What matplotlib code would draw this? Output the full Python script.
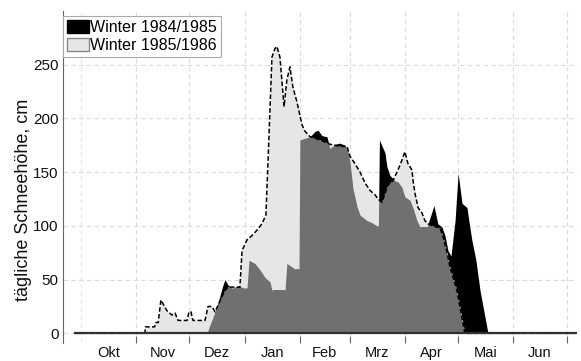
import numpy as np
import matplotlib.pyplot as plt
from matplotlib.patches import Patch

plt.rcParams['font.family'] = ['Liberation Sans', 'DejaVu Sans']

# days counted from 1 Oct
days_8586 = [-3, 36, 36.3, 41.5, 42, 43.5, 45, 48.4, 51.2, 52.9, 54.7, 59.7, 60.8, 61.9,
             63, 69.8, 71.5, 73.7, 75.4, 78.2, 81, 82.7, 89.4, 90.6, 93.4, 96.2, 99,
             101.8, 104, 105.2, 107.4, 109.1, 110.2, 111.9, 114.2, 115.8, 117.5, 119.2,
             121.5, 124.3, 126, 128.8, 134.4, 140, 145.6, 149.6, 151.2, 154, 156.9,
             159.7, 162.5, 165.3, 167, 169.2, 172.6, 175.4, 178.2, 180.4, 182.1, 183.8,
             186.1, 186.6, 187.8, 189.5, 191.7, 193.3, 195, 197.8, 201.8, 203.5, 205.7,
             207.4, 211.3, 215.8, 278]
snow_8586 = [0, 0, 6, 6, 10, 10, 31, 21, 17, 19, 12, 12, 20, 20,
             12, 12, 25, 25, 20, 30, 40, 43, 43, 77, 87, 91, 96,
             102, 110, 160, 257, 265, 267, 257, 211, 236, 248, 229,
             215, 194, 188, 183, 180, 176, 174, 174, 165, 158, 150,
             140, 133, 129, 125, 122, 138, 142, 152, 161, 169, 158,
             152, 143, 130, 117, 112, 105, 102, 100, 98, 90, 76,
             62, 40, 0, 0]

days_8485 = [-3, 70.9, 72.6, 74.3, 76.5, 78.2, 79.9, 81, 82.7, 85, 88.3, 92.2, 93.4,
             94.5, 97.9, 100.7, 103.5, 106.3, 107.4, 114.7, 115.8, 120.3, 122.6, 123.1,
             128.8, 131.6, 133.3, 135.5, 138.3, 140, 142.8, 145.6, 148.4, 150.1, 151.2,
             152.9, 155.2, 156.9, 160.8, 163.6, 166.4, 167.2, 167.8, 170.9, 172, 173.7,
             176.5, 178.2, 180.4, 182.1, 184.9, 186.6, 188.9, 190.6, 194.5, 196.7,
             198.4, 200.6, 202.9, 204.6, 206.3, 208, 210.3, 212, 214.2, 217, 218,
             219.7, 222, 224.3, 228.8, 278]
snow_8485 = [0, 0, 8, 15, 25, 35, 45, 50, 45, 42, 44, 42, 42,
             68, 65, 59, 52, 48, 40, 40, 65, 60, 60, 180,
             183, 188, 189, 184, 183, 172, 176, 177, 175, 170, 160,
             135, 118, 110, 105, 103, 100, 100, 180, 168, 155, 147,
             142, 141, 136, 127, 124, 117, 105, 99, 99, 110,
             119, 102, 99, 91, 77, 72, 105, 149, 121, 117, 105,
             87, 68, 40, 0, 0]

month_starts = [31, 61, 92, 123, 151, 182, 212, 243, 273]
month_mids = [15.5, 46, 76.5, 107.5, 137, 166.5, 197, 227.5, 258]
month_names = ['Okt', 'Nov', 'Dez', 'Jan', 'Feb', 'Mrz', 'Apr', 'Mai', 'Jun']

light = '#e6e6e6'
dark = '#707070'

fig = plt.figure(figsize=(5.81, 3.61), dpi=100)
ax = fig.add_axes([63 / 581, 18 / 361, 514 / 581, 332 / 361])

ax.fill_between(days_8485, snow_8485, color='black', lw=0, zorder=2)
p86 = ax.fill_between(days_8586, snow_8586, color=light, lw=0, zorder=2)
both = ax.fill_between(days_8485, snow_8485, color=dark, lw=0, zorder=3)
both.set_clip_path(p86.get_paths()[0], ax.transData)

ax.plot(days_8586, snow_8586, color='black', lw=1.1, ls=(0, (3, 1.5)), zorder=4)
ax.plot([days_8586[0], days_8586[-1]], [0, 0], color='#303030', lw=1.6, zorder=5)

ax.set_xlim(-10, 278.8)
ax.set_ylim(-9, 300)

ax.set_yticks([0, 50, 100, 150, 200, 250])
ax.set_xticks(month_starts)
ax.set_xticklabels([])
ax.set_xticks(month_mids, minor=True)
ax.set_xticklabels(month_names, minor=True)
ax.tick_params(axis='x', which='major', direction='in', length=5, color='#666666')
ax.tick_params(axis='x', which='minor', length=0, pad=2, labelsize=10.5, colors='#111111')
ax.tick_params(axis='y', length=0, pad=3, labelsize=11, colors='#111111')

ax.grid(True, which='major', color='#dadada', ls=(0, (4, 3)), lw=0.8, zorder=1)
ax.axvline(0, color='#e6e6e6', ls=(0, (4, 3)), lw=0.8, zorder=1)
ax.set_axisbelow(True)

for s in ['top', 'right', 'bottom']:
    ax.spines[s].set_visible(False)
ax.spines['left'].set_color('#666666')

ax.set_ylabel('tägliche Schneehöhe, cm', fontsize=13, color='#111111')
ax.yaxis.set_label_coords(-0.06, 0.43)

handles = [Patch(facecolor='black', edgecolor='black'),
           Patch(facecolor=light, edgecolor='#888888')]
leg = ax.legend(handles, ['Winter 1984/1985', 'Winter 1985/1986'],
                loc='upper left', bbox_to_anchor=(0, 0.985), fontsize=11.5,
                handlelength=1.35, handleheight=0.85, handletextpad=0.1,
                borderpad=0.25, labelspacing=0.2, borderaxespad=0,
                fancybox=False, framealpha=1, edgecolor='#aaaaaa')
leg.get_frame().set_linewidth(0.8)

fig.savefig('out.png', dpi=100)
